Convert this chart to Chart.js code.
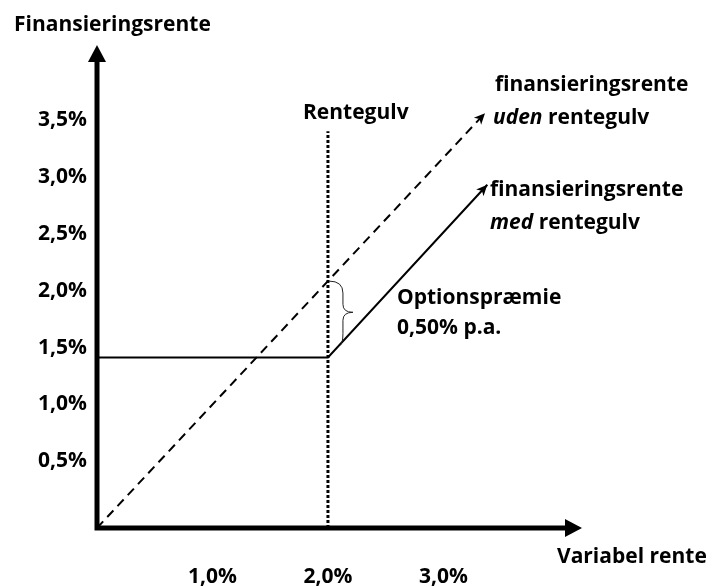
<!DOCTYPE html>
<html>
<head>
<meta charset="utf-8">
<script src="https://cdn.jsdelivr.net/npm/chart.js@4"></script>
<style>
  html, body { margin: 0; padding: 0; background: #fff; }
  #wrap { width: 718px; height: 587px; }
</style>
</head>
<body>
<div id="wrap"><canvas id="floor-chart" width="718" height="587"></canvas></div>
<script>
// tick labels (in %)
const xTicks = [1.0, 2.0, 3.0];
const yTicks = [0.5, 1.0, 1.5, 2.0, 2.5, 3.0, 3.5];

// finansieringsrente uden rentegulv (dashed)
const udenX = [0, 3.36];
const udenY = [0, 3.65];

// finansieringsrente med rentegulv (solid)
const medX = [0, 2.0, 3.38];
const medY = [1.5, 1.5, 3.02];

// rentegulv marker (dotted vertical)
const gulvX = [2.0, 2.0];
const gulvY = [0, 3.49];

const FONT = '"Open Sans", "DejaVu Sans", sans-serif';
const pct = v => v.toFixed(1).replace('.', ',') + '%';
const toPoints = (xs, ys) => xs.map((x, i) => ({ x, y: ys[i] }));

function arrowHead(ctx, x1, y1, x2, y2, len, half, notch) {
    const a = Math.atan2(y2 - y1, x2 - x1);
    ctx.save();
    ctx.translate(x2, y2);
    ctx.rotate(a);
    ctx.beginPath();
    ctx.moveTo(0, 0);
    ctx.lineTo(-len, -half);
    ctx.lineTo(-len + notch, 0);
    ctx.lineTo(-len, half);
    ctx.closePath();
    ctx.fillStyle = '#000';
    ctx.fill();
    ctx.restore();
}

function richText(ctx, parts, x, y) {
    let cx = x;
    parts.forEach(p => {
        ctx.font = (p.italic ? 'italic ' : '') + 'bold 21px ' + FONT;
        ctx.fillText(p.t, cx, y);
        cx += ctx.measureText(p.t).width;
    });
}

const decorations = {
    id: 'decorations',
    afterDatasetsDraw(chart) {
        const { ctx, chartArea, scales } = chart;
        const x0 = scales.x.getPixelForValue(0);
        const y0 = scales.y.getPixelForValue(0);
        ctx.save();

        // axes with arrows
        ctx.strokeStyle = '#000';
        ctx.lineWidth = 5;
        ctx.lineCap = 'butt';
        ctx.beginPath();
        ctx.moveTo(x0, y0 + 2.5);
        ctx.lineTo(x0, chartArea.top + 14);
        ctx.moveTo(x0 - 2.5, y0);
        ctx.lineTo(chartArea.right - 14, y0);
        ctx.stroke();
        arrowHead(ctx, x0, y0, x0, chartArea.top, 17, 9, 0);
        arrowHead(ctx, x0, y0, chartArea.right, y0, 17, 9, 0);

        // arrow heads at the end of the two rate lines
        [0, 1].forEach(i => {
            const pts = chart.getDatasetMeta(i).data;
            const a = pts[pts.length - 2], b = pts[pts.length - 1];
            arrowHead(ctx, a.x, a.y, b.x, b.y, 11, 5, 3);
        });

        // brace between the two lines at the floor
        const yTop = scales.y.getPixelForValue(udenY[1] / udenX[1] * gulvX[0]);
        const yBot = scales.y.getPixelForValue(medY[1]) - 14;
        const bx = scales.x.getPixelForValue(gulvX[0]) + 1;
        const mid = (yTop + yBot) / 2;
        ctx.lineWidth = 1;
        ctx.strokeStyle = '#222';
        ctx.beginPath();
        ctx.moveTo(bx, yTop);
        ctx.quadraticCurveTo(bx + 14, yTop, bx + 14, yTop + 12);
        ctx.lineTo(bx + 14, mid - 8);
        ctx.quadraticCurveTo(bx + 14, mid, bx + 24, mid);
        ctx.quadraticCurveTo(bx + 14, mid, bx + 14, mid + 8);
        ctx.lineTo(bx + 14, yBot - 10);
        ctx.quadraticCurveTo(bx + 14, yBot, bx + 11, yBot + 2);
        ctx.stroke();

        // texts
        ctx.fillStyle = '#000';
        ctx.textBaseline = 'middle';
        ctx.textAlign = 'left';
        richText(ctx, [{ t: 'Finansieringsrente' }], 14, 25);
        richText(ctx, [{ t: 'Variabel rente' }], 557, 557);
        richText(ctx, [{ t: 'Rentegulv' }], 303, 113);
        richText(ctx, [{ t: 'finansieringsrente' }], 495, 85);
        richText(ctx, [{ t: 'uden', italic: true }, { t: ' rentegulv' }], 493, 118);
        richText(ctx, [{ t: 'finansieringsrente' }], 490, 190);
        richText(ctx, [{ t: 'med', italic: true }, { t: ' rentegulv' }], 490, 223);
        richText(ctx, [{ t: 'Optionspræmie' }], 397, 298);
        richText(ctx, [{ t: '0,50% p.a.' }], 397, 328);
        ctx.restore();
    }
};

new Chart('floor-chart', {
    type: 'line',
    data: {
        datasets: [
            {
                label: 'finansieringsrente uden rentegulv',
                data: toPoints(udenX, udenY),
                borderColor: '#000',
                borderWidth: 2,
                borderDash: [9, 6],
                pointRadius: 0
            },
            {
                label: 'finansieringsrente med rentegulv',
                data: toPoints(medX, medY),
                borderColor: '#000',
                borderWidth: 2,
                pointRadius: 0
            },
            {
                label: 'Rentegulv',
                data: toPoints(gulvX, gulvY),
                borderColor: '#000',
                borderWidth: 3,
                borderDash: [3, 2],
                pointRadius: 0
            }
        ]
    },
    options: {
        responsive: false,
        animation: false,
        layout: { padding: { left: 0, top: 45, right: 136, bottom: 0 } },
        plugins: {
            legend: { display: false },
            tooltip: { enabled: false }
        },
        scales: {
            x: {
                type: 'linear',
                min: 0,
                max: 4.2,
                grid: { display: false, drawTicks: false },
                border: { display: false },
                afterBuildTicks: s => { s.ticks = xTicks.map(v => ({ value: v })); },
                afterFit: s => { s.height = 59; },
                ticks: {
                    autoSkip: false,
                    maxRotation: 0,
                    padding: 36,
                    color: '#000',
                    font: { family: FONT, size: 21, weight: 'bold' },
                    callback: v => pct(v)
                }
            },
            y: {
                type: 'linear',
                min: 0,
                max: 4.25,
                grid: { display: false, drawTicks: false },
                border: { display: false },
                afterBuildTicks: s => { s.ticks = yTicks.map(v => ({ value: v })); },
                afterFit: s => { s.width = 97; },
                ticks: {
                    autoSkip: false,
                    padding: 10,
                    labelOffset: -10,
                    color: '#000',
                    font: { family: FONT, size: 21, weight: 'bold' },
                    callback: v => pct(v)
                }
            }
        }
    },
    plugins: [decorations]
});
</script>
</body>
</html>
